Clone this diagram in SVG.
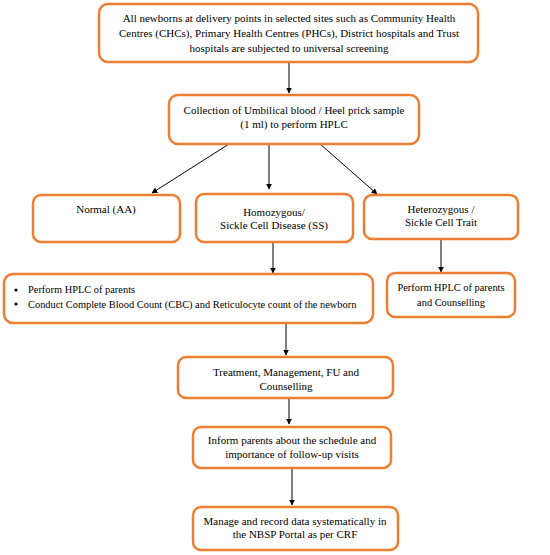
<svg xmlns="http://www.w3.org/2000/svg" width="550" height="555" viewBox="0 0 550 555">
<defs>
<marker id="ah" viewBox="0 0 10 10" refX="9" refY="5" markerWidth="6" markerHeight="6" orient="auto" markerUnits="userSpaceOnUse">
<path d="M0,0 L10,5 L0,10 z" fill="#000"/>
</marker>
<style>
.box{fill:#fff;stroke:#ED7D31;stroke-width:2.5}
.t{font-family:"Liberation Serif","Times New Roman",serif;font-size:11px;fill:#000;text-anchor:middle}
.tl{font-family:"Liberation Serif","Times New Roman",serif;font-size:10.4px;fill:#000}
.ts{font-size:10.4px}
.c{stroke:#000;stroke-width:1;fill:none;marker-end:url(#ah)}
</style>
</defs>
<rect width="550" height="555" fill="#fff"/>
<g id="connectors">
<line class="c" x1="289" y1="62" x2="289" y2="93"/>
<line class="c" x1="229" y1="144" x2="152" y2="193"/>
<line class="c" x1="269" y1="144" x2="269" y2="189"/>
<line class="c" x1="320" y1="144" x2="377" y2="194"/>
<line class="c" x1="273" y1="242" x2="273" y2="273"/>
<line class="c" x1="441" y1="239" x2="441" y2="272"/>
<line class="c" x1="286" y1="324" x2="286" y2="355"/>
<line class="c" x1="289" y1="398" x2="289" y2="424"/>
<line class="c" x1="292" y1="468" x2="292" y2="505"/>
</g>
<g id="n1">
<rect class="box" x="99" y="4" width="379" height="58" rx="9"/>
<text class="t" x="289" y="22">All newborns at delivery points in selected sites such as Community Health</text>
<text class="t" x="289" y="37">Centres (CHCs), Primary Health Centres (PHCs), District hospitals and Trust</text>
<text class="t" x="289" y="52">hospitals are subjected to universal screening</text>
</g>
<g id="n2">
<rect class="box" x="169" y="95" width="250" height="49" rx="9"/>
<text class="t" x="294" y="114">Collection of Umbilical blood / Heel prick sample</text>
<text class="t" x="294" y="128">(1 ml) to perform HPLC</text>
</g>
<g id="n3">
<rect class="box" x="33" y="195" width="147" height="47" rx="8"/>
<text class="t" x="106" y="213">Normal (AA)</text>
</g>
<g id="n4">
<rect class="box" x="196" y="194" width="157" height="48" rx="8"/>
<text class="t" x="274" y="216">Homozygous/</text>
<text class="t" x="274" y="229">Sickle Cell Disease (SS)</text>
</g>
<g id="n5">
<rect class="box" x="364" y="195" width="154" height="44" rx="8"/>
<text class="t" x="441" y="213">Heterozygous /</text>
<text class="t" x="441" y="226">Sickle Cell Trait</text>
</g>
<g id="n6">
<rect class="box" x="4" y="274" width="369" height="49" rx="9"/>
<circle cx="16" cy="290" r="1.6" fill="#000"/>
<circle cx="16" cy="304" r="1.6" fill="#000"/>
<text class="tl" x="28" y="293">Perform HPLC of parents</text>
<text class="tl" x="28" y="308">Conduct Complete Blood Count (CBC) and Reticulocyte count of the newborn</text>
</g>
<g id="n7">
<rect class="box" x="387" y="273" width="128" height="44" rx="8"/>
<text class="t ts" x="451" y="291">Perform HPLC of parents</text>
<text class="t ts" x="451" y="306">and Counselling</text>
</g>
<g id="n8">
<rect class="box" x="178" y="357" width="215" height="41" rx="8"/>
<text class="t" x="286" y="376">Treatment, Management, FU and</text>
<text class="t" x="286" y="390">Counselling</text>
</g>
<g id="n9">
<rect class="box" x="193" y="427" width="198" height="41" rx="8"/>
<text class="t" x="292" y="444">Inform parents about the schedule and</text>
<text class="t" x="292" y="458">importance of follow-up visits</text>
</g>
<g id="n10">
<rect class="box" x="193" y="507" width="205" height="43" rx="8"/>
<text class="t" x="295" y="525">Manage and record data systematically in</text>
<text class="t" x="295" y="538">the NBSP Portal as per CRF</text>
</g>
</svg>
